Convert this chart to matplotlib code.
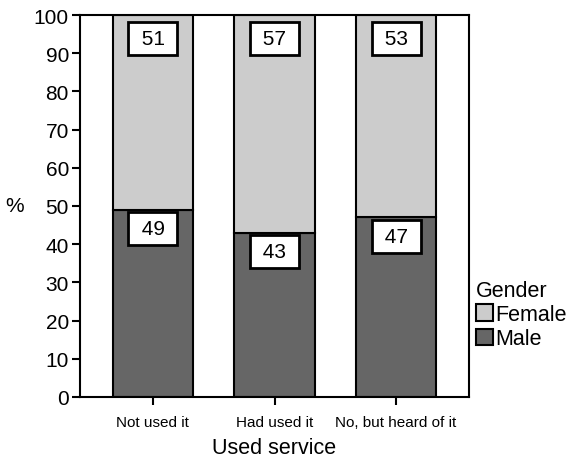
import matplotlib.pyplot as plt
import numpy as np

plt.rcParams['font.family'] = ['Liberation Sans', 'DejaVu Sans']

# data
categories = ['Not used it', 'Had used it', 'No, but heard of it']
male = [49, 43, 47]
female = [51, 57, 53]

fig = plt.figure(figsize=(5.79, 4.6), dpi=100)
ax = fig.add_axes([80 / 579, 62 / 460, 389 / 579, 382 / 460])

x = np.arange(len(categories))
w = 0.66
male_bars = ax.bar(x, male, w, color='#666666', edgecolor='black', linewidth=1.5, label='Male')
female_bars = ax.bar(x, female, w, bottom=male, color='#cccccc', edgecolor='black',
                     linewidth=1.5, label='Female')

# value labels in white boxes, near the top of each segment
box = dict(boxstyle='square,pad=0.34', facecolor='white', edgecolor='black', linewidth=2)
for i in range(len(categories)):
    ax.text(x[i], male[i] - 2.4, f' {male[i]} ', ha='center', va='top', fontsize=15, bbox=box)
    ax.text(x[i], male[i] + female[i] - 3.7, f' {female[i]} ', ha='center', va='top',
            fontsize=15, bbox=box)

ax.set_xlim(-0.6, 2.6)
ax.set_ylim(0, 100)
ax.set_yticks(range(0, 101, 10))
ax.set_xticks(x)
ax.set_xticklabels(categories, fontsize=11)
ax.tick_params(axis='y', labelsize=15, length=6, width=1.5, direction='out', pad=2)
ax.tick_params(axis='x', length=6, width=1.5, direction='out', pad=7)
for s in ax.spines.values():
    s.set_linewidth(1.5)

ax.set_ylabel('%', fontsize=15, rotation=0, labelpad=14, va='center')
ax.set_xlabel('Used service', fontsize=15.5, labelpad=6)

handles = [female_bars, male_bars]
leg = ax.legend(handles, ['Female', 'Male'], title='Gender', loc='upper left',
                bbox_to_anchor=(0.99, 0.335), frameon=False, fontsize=15.5, title_fontsize=15.5,
                handlelength=0.8, handleheight=0.8, handletextpad=0.1, borderaxespad=0.3,
                labelspacing=0.15, borderpad=0.2)
leg._legend_box.align = 'left'

fig.savefig('out.png', dpi=100)
